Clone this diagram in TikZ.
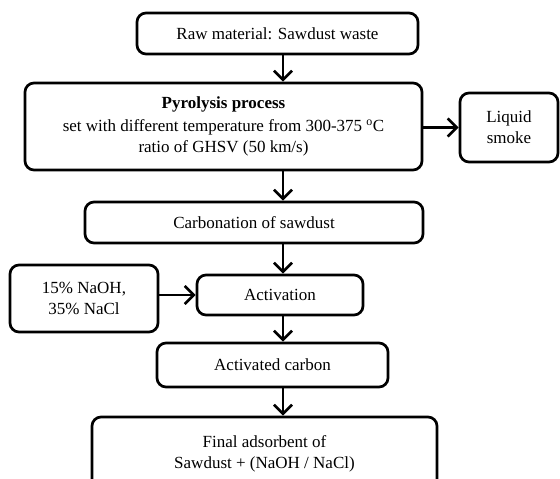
\documentclass[tikz,border=0pt]{standalone}
\usepackage{fontspec}
\setmainfont{Liberation Serif}
\usetikzlibrary{arrows.meta}

\begin{document}
\begin{tikzpicture}[x=1pt,y=-1pt,
  box/.style={draw, line width=2.7pt, rounded corners=9pt, align=center, inner sep=0pt,
    font=\fontsize{17}{21}\selectfont},
  flow/.style={line width=2.7pt, -{Straight Barb[length=9pt,width=18pt]}}]
\useasboundingbox (0,0) rectangle (560,479);
\clip (0,0) rectangle (560,479);
\coordinate (axis) at (283,0);
\node[box, minimum width=281pt, minimum height=41pt] (raw) at (277.5,33.5) {Raw material: Sawdust waste};
\node[box, minimum width=397pt, minimum height=87pt] (pyro) at (223.5,126.5)
  {\textbf{Pyrolysis process}\\[2pt] set with different temperature from 300-375 \textsuperscript{o}C\\ ratio of GHSV (50 km/s)};
\node[box, minimum width=98pt, minimum height=69pt] (smoke) at (509,127.5) {Liquid\\ smoke};
\node[box, minimum width=338pt, minimum height=41pt] (carb) at (254,222.5) {Carbonation of sawdust};
\node[box, minimum width=166pt, minimum height=40pt] (activ) at (280,295) {Activation};
\node[box, minimum width=148pt, minimum height=67pt] (chem) at (84,298.5) {15\% NaOH,\\ 35\% NaCl};
\node[box, minimum width=231pt, minimum height=44pt] (actcarb) at (272.5,365) {Activated carbon};
\node[box, minimum width=345pt, minimum height=73pt] (final) at (264.5,453.5) {Final adsorbent of\\ Sawdust + (NaOH / NaCl)};
\draw[flow] (raw.south -| axis) -- (pyro.north -| axis);
\draw[flow] (pyro.east |- smoke.west) -- (smoke.west);
\draw[flow] (pyro.south -| axis) -- (carb.north -| axis);
\draw[flow] (carb.south -| axis) -- (activ.north -| axis);
\draw[flow] (chem.east |- activ.west) -- (activ.west);
\draw[flow] (activ.south -| axis) -- (actcarb.north -| axis);
\draw[flow] (actcarb.south -| axis) -- (final.north -| axis);
\end{tikzpicture}
\end{document}
